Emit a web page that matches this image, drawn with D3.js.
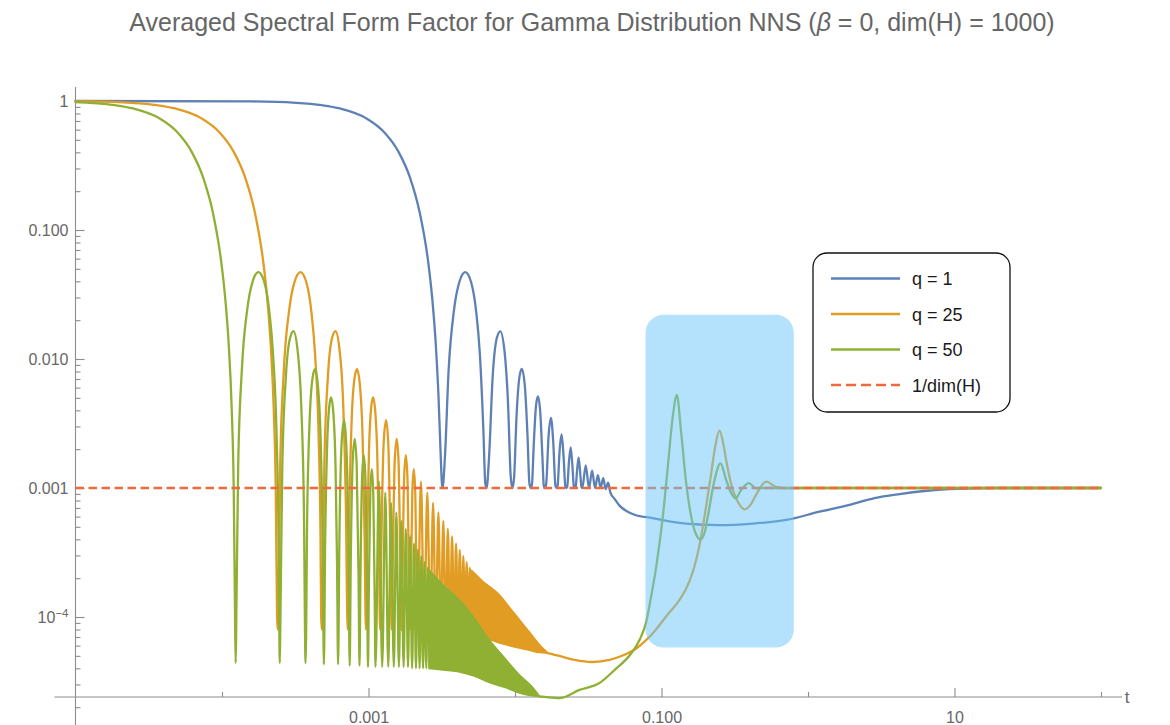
<!DOCTYPE html>
<html>
<head>
<meta charset="utf-8">
<script src="https://cdn.jsdelivr.net/npm/d3@7"></script>
<style>
  body { margin: 0; background: #fff; }
  svg { display: block; font-family: "Liberation Sans", Arial, sans-serif; }
</style>
</head>
<body>
<svg id="chart" width="1170" height="725"></svg>
<script>
// ---------------- data ----------------
// q = 1 : plateau, arches touching 1/dim(H), then the dip below it
const blueT = [
  1e-5, 1.6e-4, 3.2e-4, 4.8e-4, 6.4e-4, 9.6e-4, 1.28e-3, 1.6e-3, 1.92e-3, 2.24e-3, 2.56e-3, 2.72e-3, 2.88e-3, 3.008e-3, 3.104e-3, 3.168e-3, 3.2e-3,
  3.328e-3, 3.52e-3, 3.84e-3, 4.16e-3, 4.576e-3, 5.024e-3, 5.44e-3, 5.76e-3, 6.08e-3, 6.272e-3, 6.4e-3,
  6.656e-3, 7.04e-3, 7.52e-3, 7.936e-3, 8.48e-3, 8.96e-3, 9.344e-3, 9.6e-3,
  9.856e-3, 0.01024, 0.01072, 0.011136, 0.01168, 0.01216, 0.012544, 0.0128,
  0.013056, 0.01344, 0.01392, 0.014336, 0.01488, 0.01536, 0.015744, 0.016,
  0.01632, 0.01696, 0.0176, 0.01824, 0.01888, 0.0192,
  0.01952, 0.02016, 0.0208, 0.02144, 0.02208, 0.0224,
  0.02272, 0.02336, 0.024, 0.02464, 0.02528, 0.0256,
  0.02592, 0.02656, 0.0272, 0.02784, 0.02848, 0.0288,
  0.0304, 0.032, 0.0336, 0.0352, 0.0368, 0.0384, 0.04, 0.0416, 0.0432, 0.0448,
  0.048, 0.0517, 0.058, 0.0654, 0.0868, 0.1474, 0.2488, 0.418, 0.7097, 1.198, 1.92, 2.844, 4.213, 6.24, 9.24, 20.3, 100
];
const blueV = [
  1, 0.9918, 0.9675, 0.9281, 0.8751, 0.7368, 0.5728, 0.4053, 0.2546, 0.1353, 0.0557, 0.0299, 0.0129, 0.005, 0.0019, 0.0011, 0.001,
  1.78e-3, 8.06e-3, 0.0243, 0.0392, 0.0472, 0.0392, 0.023, 0.0108, 2.86e-3, 1.08e-3, 0.001,
  1.76e-3, 7.3e-3, 0.0146, 0.0164, 0.0115, 4.58e-3, 1.24e-3, 0.001,
  1.2e-3, 3.56e-3, 7.24e-3, 8.39e-3, 6.12e-3, 2.62e-3, 1.08e-3, 0.001,
  1.07e-3, 2.22e-3, 4.37e-3, 5.13e-3, 3.85e-3, 1.82e-3, 1.03e-3, 0.001,
  1.07e-3, 2.56e-3, 3.5e-3, 2.27e-3, 1.04e-3, 0.001,
  1.03e-3, 1.95e-3, 2.6e-3, 1.78e-3, 1.02e-3, 0.001,
  1.02e-3, 1.6e-3, 2.06e-3, 1.5e-3, 1.01e-3, 0.001,
  1.01e-3, 1.39e-3, 1.72e-3, 1.33e-3, 1.01e-3, 0.001,
  1.5e-3, 0.001, 1.36e-3, 0.001, 1.26e-3, 0.001, 1.19e-3, 0.00098, 1.1e-3, 9.2e-4,
  8.2e-4, 7.3e-4, 6.6e-4, 6.2e-4, 5.85e-4, 5.3e-4, 5.16e-4, 5.3e-4, 5.65e-4, 6.55e-4, 7.4e-4, 8.36e-4, 8.98e-4, 9.48e-4, 9.8e-4, 1e-3, 1e-3
];

// q = 25 : plateau and resolved arches
const orangeT = [
  1e-5, 1.2e-5, 2.4e-5, 3.6e-5, 4.8e-5, 7.2e-5, 9.6e-5, 1.2e-4, 1.44e-4, 1.68e-4, 1.92e-4, 2.04e-4, 2.16e-4, 2.256e-4, 2.328e-4, 2.376e-4, 2.4e-4,
  2.424e-4, 2.496e-4, 2.64e-4, 2.88e-4, 3.12e-4, 3.432e-4, 3.768e-4, 4.08e-4, 4.32e-4, 4.56e-4, 4.704e-4, 4.752e-4, 4.8e-4,
  4.848e-4, 4.992e-4, 5.28e-4, 5.64e-4, 5.952e-4, 6.36e-4, 6.72e-4, 7.008e-4, 7.2e-4,
  7.392e-4, 7.68e-4, 8.04e-4, 8.352e-4, 8.76e-4, 9.12e-4, 9.408e-4, 9.6e-4,
  9.792e-4, 1.008e-3, 1.044e-3, 1.0752e-3, 1.116e-3, 1.152e-3, 1.1808e-3, 1.2e-3,
  1.224e-3, 1.272e-3, 1.32e-3, 1.368e-3, 1.416e-3, 1.44e-3,
  1.464e-3, 1.512e-3, 1.56e-3, 1.608e-3, 1.656e-3, 1.68e-3,
  1.704e-3, 1.752e-3, 1.8e-3, 1.848e-3, 1.896e-3, 1.92e-3,
  1.944e-3, 1.992e-3, 2.04e-3, 2.088e-3, 2.136e-3, 2.16e-3,
  2.28e-3, 2.4e-3, 2.52e-3, 2.64e-3, 2.76e-3, 2.88e-3, 3.0e-3, 3.12e-3, 3.24e-3, 3.36e-3, 3.48e-3, 3.6e-3,
  3.72e-3, 3.84e-3, 3.96e-3, 4.08e-3, 4.2e-3, 4.32e-3, 4.44e-3, 4.56e-3, 4.68e-3, 4.8e-3, 4.92e-3, 5.04e-3
];
const orangeV = [
  0.9943, 0.9918, 0.9675, 0.9281, 0.8751, 0.7368, 0.5728, 0.4053, 0.2546, 0.1353, 0.0547, 0.0289, 0.01194, 4.03e-3, 9.54e-4, 1.02e-4, 8e-5,
  9.8e-5, 1.471e-3, 7.996e-3, 0.02431, 0.03924, 0.04719, 0.03915, 0.02295, 0.0108, 2.68e-3, 4.14e-4, 1.02e-4, 8e-5,
  9.79e-5, 1.448e-3, 7.233e-3, 0.014565, 0.016409, 0.011454, 4.465e-3, 7.349e-4, 8e-5,
  6.61e-4, 3.42e-3, 7.17e-3, 8.33e-3, 6.04e-3, 2.42e-3, 4.08e-4, 8e-5,
  3.76e-4, 1.98e-3, 4.25e-3, 5.03e-3, 3.72e-3, 1.52e-3, 2.59e-4, 8e-5,
  3.72e-4, 2.36e-3, 3.35e-3, 2.04e-3, 2.78e-4, 8e-5,
  2.6e-4, 1.67e-3, 2.4e-3, 1.48e-3, 2.03e-4, 7.9e-5,
  1.92e-4, 1.24e-3, 1.8e-3, 1.12e-3, 1.55e-4, 7.9e-5,
  1.48e-4, 9.63e-4, 1.4e-3, 8.76e-4, 1.22e-4, 7.8e-5,
  1.123e-3, 7.8e-5, 9.19e-4, 7.8e-5, 7.66e-4, 7.7e-5, 6.48e-4, 7.7e-5, 5.56e-4, 7.7e-5, 4.82e-4, 7.6e-5,
  4.22e-4, 7.6e-5, 3.72e-4, 7.6e-5, 3.31e-4, 7.5e-5, 2.96e-4, 7.5e-5, 2.66e-4, 7.5e-5, 2.41e-4, 7.5e-5
];
// q = 25 : unresolved fast oscillation (upper / lower edge)
const orangeBandT  = [5.04e-3, 6.0e-3, 7.84e-3, 9.2e-3, 1.073e-2, 1.27e-2, 1.47e-2, 1.667e-2];
const orangeBandHi = [2.3e-4, 1.9e-4, 1.48e-4, 1.18e-4, 9.5e-5, 7.5e-5, 6.1e-5, 5.3e-5];
const orangeBandLo = [7.5e-5, 7.0e-5, 6.3e-5, 6.0e-5, 5.75e-5, 5.5e-5, 5.3e-5, 5.25e-5];
// q = 25 : ramp and late-time wiggles
const orangeTailT = [1.667e-2, 2.012e-2, 2.547e-2, 3.381e-2, 4.416e-2, 5.168e-2, 6.646e-2, 8.722e-2, 0.1099, 0.1327, 0.1553, 0.1725, 0.1846, 0.1966, 0.2184, 0.2337, 0.2488, 0.265, 0.2778, 0.3067, 0.3354, 0.3686, 0.4051, 0.4452, 0.5185, 0.6048, 0.7097, 0.875, 100];
const orangeTailV = [5.25e-5, 4.99e-5, 4.65e-5, 4.48e-5, 4.65e-5, 4.92e-5, 5.65e-5, 7.48e-5, 1.04e-4, 1.355e-4, 1.9e-4, 2.77e-4, 3.95e-4, 6.0e-4, 1.3e-3, 2.16e-3, 2.78e-3, 2.16e-3, 1.59e-3, 9.65e-4, 7.65e-4, 6.84e-4, 7.4e-4, 8.98e-4, 1.12e-3, 1.02e-3, 9.95e-4, 1e-3, 1e-3];

// q = 50 : plateau and resolved arches
const greenT = [
  1e-5, 1.24e-5, 1.86e-5, 2.48e-5, 3.72e-5, 4.96e-5, 6.2e-5, 7.44e-5, 8.68e-5, 9.92e-5, 1.054e-4, 1.116e-4, 1.1656e-4, 1.2028e-4, 1.2276e-4, 1.24e-4,
  1.2524e-4, 1.2896e-4, 1.364e-4, 1.488e-4, 1.612e-4, 1.7732e-4, 1.9468e-4, 2.108e-4, 2.232e-4, 2.356e-4, 2.4304e-4, 2.4552e-4, 2.48e-4,
  2.5048e-4, 2.5792e-4, 2.728e-4, 2.914e-4, 3.0752e-4, 3.286e-4, 3.472e-4, 3.6208e-4, 3.72e-4,
  3.8192e-4, 3.968e-4, 4.154e-4, 4.3152e-4, 4.526e-4, 4.712e-4, 4.8608e-4, 4.96e-4,
  5.0592e-4, 5.208e-4, 5.394e-4, 5.5552e-4, 5.766e-4, 5.952e-4, 6.1008e-4, 6.2e-4,
  6.324e-4, 6.572e-4, 6.82e-4, 7.068e-4, 7.316e-4, 7.44e-4,
  7.564e-4, 7.812e-4, 8.06e-4, 8.308e-4, 8.556e-4, 8.68e-4,
  8.804e-4, 9.052e-4, 9.3e-4, 9.548e-4, 9.796e-4, 9.92e-4,
  1.0044e-3, 1.0292e-3, 1.054e-3, 1.0788e-3, 1.1036e-3, 1.116e-3,
  1.178e-3, 1.24e-3, 1.302e-3, 1.364e-3, 1.426e-3, 1.488e-3, 1.55e-3, 1.612e-3, 1.674e-3, 1.736e-3, 1.798e-3, 1.86e-3,
  1.922e-3, 1.984e-3, 2.046e-3, 2.108e-3, 2.17e-3, 2.232e-3, 2.294e-3, 2.356e-3, 2.418e-3, 2.48e-3, 2.542e-3, 2.604e-3
];
const greenV = [
  0.9788, 0.9675, 0.9281, 0.8751, 0.7368, 0.5728, 0.4053, 0.2546, 0.1353, 0.0547, 0.0289, 0.01194, 4.03e-3, 9.54e-4, 1.02e-4, 4.4e-5,
  9.8e-5, 1.471e-3, 7.996e-3, 0.02431, 0.03924, 0.04719, 0.03915, 0.02295, 0.0108, 2.68e-3, 4.14e-4, 1.02e-4, 4.4e-5,
  9.79e-5, 1.448e-3, 7.233e-3, 0.014565, 0.016409, 0.011454, 4.465e-3, 7.349e-4, 4.4e-5,
  6.61e-4, 3.42e-3, 7.17e-3, 8.33e-3, 6.04e-3, 2.42e-3, 4.08e-4, 4.3e-5,
  3.76e-4, 1.98e-3, 4.25e-3, 5.03e-3, 3.72e-3, 1.52e-3, 2.59e-4, 4.3e-5,
  3.72e-4, 2.36e-3, 3.35e-3, 2.04e-3, 2.78e-4, 4.2e-5,
  2.6e-4, 1.67e-3, 2.4e-3, 1.48e-3, 2.03e-4, 4.2e-5,
  1.92e-4, 1.24e-3, 1.8e-3, 1.12e-3, 1.55e-4, 4.1e-5,
  1.48e-4, 9.63e-4, 1.4e-3, 8.76e-4, 1.22e-4, 4.1e-5,
  1.123e-3, 4.1e-5, 9.19e-4, 4.1e-5, 7.66e-4, 4.1e-5, 6.48e-4, 4.1e-5, 5.56e-4, 4.1e-5, 4.82e-4, 4.1e-5,
  4.22e-4, 4.0e-5, 3.72e-4, 4.0e-5, 3.31e-4, 4.0e-5, 2.96e-4, 4.0e-5, 2.66e-4, 4.0e-5, 2.41e-4, 4.0e-5
];
// q = 50 : unresolved fast oscillation (upper / lower edge)
const greenBandT  = [2.604e-3, 3.1e-3, 4.18e-3, 5.2e-3, 6.7e-3, 8.5e-3, 1.073e-2, 1.3e-2, 1.47e-2];
const greenBandHi = [2.3e-4, 1.85e-4, 1.355e-4, 1.0e-4, 6.6e-5, 4.8e-5, 3.55e-5, 2.9e-5, 2.42e-5];
const greenBandLo = [4.0e-5, 3.9e-5, 3.75e-5, 3.5e-5, 3.1e-5, 2.85e-5, 2.58e-5, 2.45e-5, 2.42e-5];
// q = 50 : ramp and late-time wiggles
const greenTailT = [1.47e-2, 1.59e-2, 2.012e-2, 2.756e-2, 3.774e-2, 4.777e-2, 6.24e-2, 0.0708, 7.863e-2, 0.0841, 9.201e-2, 0.1021, 0.1104, 0.1194, 0.1272, 0.1363, 0.1474, 0.1595, 0.1706, 0.1846, 0.1966, 0.207, 0.23, 0.2527, 0.2764, 0.2991, 0.32, 0.3499, 0.3944, 0.443, 0.5185, 100];
const greenTailV = [2.42e-5, 2.4e-5, 2.35e-5, 2.72e-5, 3.08e-5, 3.88e-5, 5.26e-5, 6.63e-5, 9.15e-5, 1.355e-4, 2.45e-4, 6.0e-4, 1.46e-3, 3.57e-3, 5.26e-3, 2.67e-3, 1.09e-3, 6.0e-4, 4.48e-4, 4.0e-4, 4.48e-4, 6.0e-4, 1.15e-3, 1.55e-3, 1.15e-3, 9.15e-4, 8.32e-4, 9.65e-4, 1.09e-3, 9.95e-4, 1e-3, 1e-3];

// reference level 1/dim(H)
const invDimT = [1e-5, 100];
const invDimV = [1e-3, 1e-3];

// highlighted window (t range, value range)
const highlightT = [0.0778, 0.8];
const highlightV = [5.8e-5, 0.022];

const seriesNames = ["q = 1", "q = 25", "q = 50", "1/dim(H)"];
const xTickValues = [1e-3, 0.1, 10];
const xTickLabels = ["0.001", "0.100", "10"];
const xPlainTicks = [1e-4, 1e-2, 1, 100];
const yTickValues = [1, 0.1, 0.01, 0.001, 1e-4];
const yTickLabels = ["1", "0.100", "0.010", "0.001", "10^-4"];

// ---------------- drawing ----------------
const colors = { blue: "#5e81b5", orange: "#e19c24", green: "#8fb032", ref: "#ee6a3c" };
const axisColor = "#8c8c8c";
const labelColor = "#666666";

const svg = d3.select("#chart");
const x = d3.scaleLog().domain([1e-5, 100]).range([75.5, 1101]);
const y = d3.scaleLog().domain([1e-4, 1]).range([617, 101]);
const tAxisLevel = 2.4e-5;          // the t axis crosses the vertical axis here
const yAxisPos = y(tAxisLevel);

// title
const title = svg.append("text")
  .attr("x", 592).attr("y", 31)
  .attr("text-anchor", "middle")
  .attr("font-size", 25)
  .attr("fill", "#666");
title.append("tspan").text("Averaged Spectral Form Factor for Gamma Distribution NNS (");
title.append("tspan").attr("font-style", "italic").text("β");
title.append("tspan").text(" = 0, dim(H) = 1000)");

// axes lines
svg.append("line")
  .attr("x1", x(1e-5) - 21).attr("x2", x(100) + 21)
  .attr("y1", yAxisPos).attr("y2", yAxisPos)
  .attr("stroke", axisColor).attr("stroke-width", 1.1);
svg.append("line")
  .attr("x1", x(1e-5)).attr("x2", x(1e-5))
  .attr("y1", y(1) - 14).attr("y2", 725)
  .attr("stroke", axisColor).attr("stroke-width", 1.1);

function styleAxis(g) {
  g.select(".domain").remove();
  g.selectAll(".tick line").attr("stroke", axisColor).attr("stroke-width", 1.1);
  g.selectAll(".tick text").attr("fill", labelColor).attr("font-size", 16)
    .attr("font-family", '"Liberation Sans", Arial, sans-serif');
}

// x axis: labelled and plain decade ticks, pointing up
svg.append("g").attr("transform", `translate(0,${yAxisPos})`)
  .call(d3.axisBottom(x).tickValues(xTickValues).tickSize(-9).tickPadding(15)
    .tickFormat((d, i) => xTickLabels[i]))
  .call(styleAxis);
svg.append("g").attr("transform", `translate(0,${yAxisPos})`)
  .call(d3.axisBottom(x).tickValues(xPlainTicks).tickSize(-5).tickFormat(""))
  .call(styleAxis);
svg.append("text").attr("x", 1127).attr("y", yAxisPos + 6)
  .attr("text-anchor", "middle").attr("font-size", 17).attr("fill", labelColor).text("t");

// y axis: labelled decades and minor ticks, pointing right
const yAx = svg.append("g").attr("transform", `translate(${x(1e-5)},0)`)
  .call(d3.axisLeft(y).tickValues(yTickValues).tickSize(-9).tickPadding(7)
    .tickFormat((d, i) => yTickLabels[i]))
  .call(styleAxis);
yAx.selectAll(".tick text").filter(d => d === 1e-4).each(function () {
  const t = d3.select(this).text("");
  t.append("tspan").text("10");
  t.append("tspan").attr("dy", "-0.45em").attr("font-size", 11.5).text("−4");
});
const minorY = y.copy().domain([1.6e-5, 1]).ticks()
  .filter(v => Math.abs(Math.log10(v) - Math.round(Math.log10(v))) > 1e-6);
svg.append("g").attr("transform", `translate(${x(1e-5)},0)`)
  .call(d3.axisLeft(y).tickValues(minorY).tickSize(-5).tickFormat(""))
  .call(styleAxis);

// curves
const line = d3.line().x(d => x(d[0])).y(d => y(d[1])).curve(d3.curveMonotoneX);
const band = d3.area().x(d => x(d[0])).y0(d => y(d[1])).y1(d => y(d[2])).curve(d3.curveMonotoneX);
const plot = svg.append("g").attr("fill", "none").attr("stroke-linejoin", "round").attr("stroke-linecap", "round");

function drawCurve(T, V, color) {
  plot.append("path").attr("d", line(d3.zip(T, V)))
    .attr("stroke", color).attr("stroke-width", 2.3);
}
function drawBand(T, lo, hi, color) {
  plot.append("path").attr("d", band(d3.zip(T, lo, hi)))
    .attr("fill", color).attr("stroke", color).attr("stroke-width", 1.6);
}

drawCurve(blueT, blueV, colors.blue);
drawCurve(orangeT, orangeV, colors.orange);
drawBand(orangeBandT, orangeBandLo, orangeBandHi, colors.orange);
drawCurve(orangeTailT, orangeTailV, colors.orange);
drawCurve(greenT, greenV, colors.green);
drawBand(greenBandT, greenBandLo, greenBandHi, colors.green);
drawCurve(greenTailT, greenTailV, colors.green);

plot.append("path").attr("d", line(d3.zip(invDimT, invDimV)))
  .attr("stroke", colors.ref).attr("stroke-width", 2.4)
  .attr("stroke-dasharray", "8.5,4.5").attr("stroke-linecap", "butt");

// translucent highlight over the late-time region
svg.append("rect")
  .attr("x", x(highlightT[0])).attr("y", y(highlightV[1]))
  .attr("width", x(highlightT[1]) - x(highlightT[0]))
  .attr("height", y(highlightV[0]) - y(highlightV[1]))
  .attr("rx", 18).attr("ry", 18)
  .attr("fill", "rgb(105,198,250)").attr("fill-opacity", 0.5);

// legend
const legend = svg.append("g").attr("transform", "translate(813,253)");
legend.append("rect").attr("width", 197).attr("height", 159).attr("rx", 14).attr("ry", 14)
  .attr("fill", "#fff").attr("stroke", "#111").attr("stroke-width", 1.3);
const legendColors = [colors.blue, colors.orange, colors.green, colors.ref];
seriesNames.forEach((name, i) => {
  const yy = 25.5 + i * 35.5;
  legend.append("line").attr("x1", 18).attr("x2", 87).attr("y1", yy).attr("y2", yy)
    .attr("stroke", legendColors[i]).attr("stroke-width", 2.4)
    .attr("stroke-dasharray", i === 3 ? "10,5" : null);
  legend.append("text").attr("x", 99).attr("y", yy + 6.5)
    .attr("font-size", 18).attr("fill", "#1a1a1a").text(name);
});
</script>
</body>
</html>
